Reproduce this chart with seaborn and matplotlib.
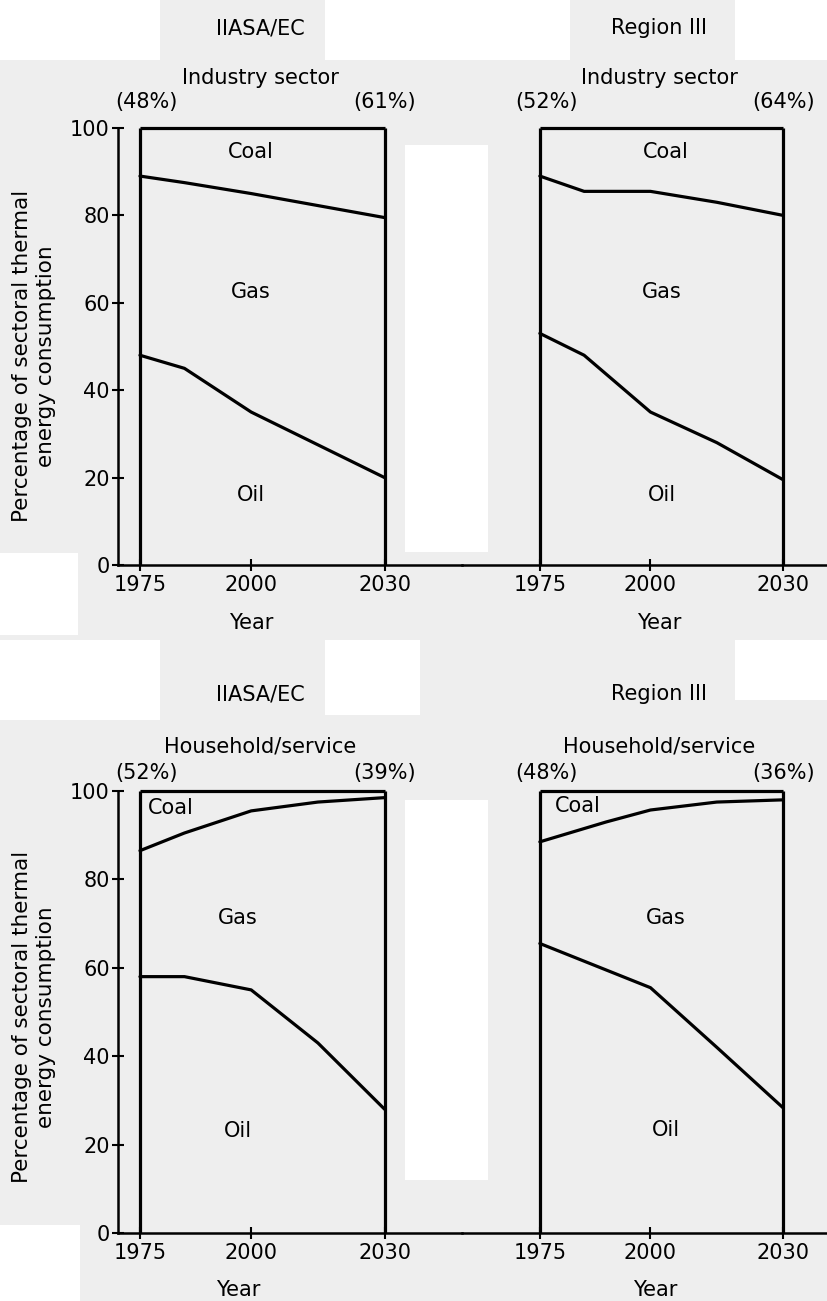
import numpy as np
import pandas as pd
import matplotlib
matplotlib.use('Agg')
import matplotlib.pyplot as plt
from matplotlib.patches import Rectangle
import seaborn as sns

# Boundary lines (percent): oil/gas boundary and gas/coal boundary
ind_iiasa_years = [1975, 1985, 2000, 2030]
ind_iiasa_coal = [89, 87.5, 85, 79.5]
ind_iiasa_oil = [48, 45, 35, 20]

ind_reg3_years = [1975, 1985, 2000, 2015, 2030]
ind_reg3_coal = [89, 85.5, 85.5, 83, 80]
ind_reg3_oil = [53, 48, 35, 28, 19.5]

hh_iiasa_years = [1975, 1985, 2000, 2015, 2030]
hh_iiasa_coal = [86.5, 90.5, 95.5, 97.5, 98.5]
hh_iiasa_oil = [58, 58, 55, 43, 28]

hh_reg3_years = [1975, 1990, 2000, 2015, 2030]
hh_reg3_coal = [88.5, 93, 95.7, 97.5, 98]
hh_reg3_oil = [65.5, 59.5, 55.5, 42, 28.3]

scenarios = ['IIASA/EC', 'Region III']
sectors = ['Industry sector', 'Household/service']
shares_start = [['(48%)', '(52%)'], ['(52%)', '(48%)']]
shares_end = [['(61%)', '(64%)'], ['(39%)', '(36%)']]
xticks = [1975, 2000, 2030]
yticks = [0, 20, 40, 60, 80, 100]

sns.set_style('ticks')
plt.rcParams['font.family'] = ['DejaVu Sans']
plt.rcParams['text.color'] = 'black'
plt.rcParams['axes.edgecolor'] = 'black'
plt.rcParams['xtick.color'] = 'black'
plt.rcParams['ytick.color'] = 'black'
FS = 15

W, H = 827, 1301
fig = plt.figure(figsize=(W / 100, H / 100), dpi=100)
fig.patch.set_facecolor('#eeeeee')

# white scan blocks in the background
white_blocks = [(0, 0, 160, 60), (325, 0, 245, 60), (735, 0, 92, 60),
                (405, 145, 83, 407), (0, 553, 78, 82), (0, 640, 160, 80),
                (325, 640, 95, 75), (735, 640, 92, 60),
                (405, 800, 83, 380), (0, 1225, 80, 76)]
for (bx, by, bw, bh) in white_blocks:
    fig.add_artist(Rectangle((bx / W, 1 - (by + bh) / H), bw / W, bh / H,
                             transform=fig.transFigure, color='white',
                             zorder=-5, lw=0))

panels = [
    [(ind_iiasa_years, ind_iiasa_coal, ind_iiasa_oil),
     (ind_reg3_years, ind_reg3_coal, ind_reg3_oil)],
    [(hh_iiasa_years, hh_iiasa_coal, hh_iiasa_oil),
     (hh_reg3_years, hh_reg3_coal, hh_reg3_oil)],
]

# label positions (year, percent) for fuel names
fuel_pos = [
    [{'Coal': (2000, 94.5), 'Gas': (2000, 62.5), 'Oil': (2000, 16)},
     {'Coal': (2003.5, 94.5), 'Gas': (2002.5, 62.5), 'Oil': (2002.5, 16)}],
    [{'Coal': (1982, 96.2), 'Gas': (1997, 71.3), 'Oil': (1997, 23)},
     {'Coal': (1983.6, 96.6), 'Gas': (2003.5, 71.3), 'Oil': (2003.5, 23.3)}],
]

row_px = [(128, 565), (791, 1233)]   # (y of 100, y of 0)
col_px = [(118, 462, 1970.06, 2047.4), (462, 827, 1957.4, 2039.9)]
head_rows = [(28, 78, 102, 623), (694, 746, 773, 1290)]

for r in range(2):
    ytop, ybot = row_px[r]
    ppu = (ybot - ytop) / 100.0

    def to_data(py):
        return (ybot - py) / ppu

    for c in range(2):
        x0, x1, xl0, xl1 = col_px[c]
        ax = fig.add_axes([x0 / W, 1 - ybot / H, (x1 - x0) / W, (ybot - ytop) / H])
        ax.set_facecolor('none')
        years, coal, oil = panels[r][c]
        df = pd.DataFrame({'year': years, 'coal': coal, 'oil': oil})
        sns.lineplot(data=df, x='year', y='coal', ax=ax, color='black', lw=2.3)
        sns.lineplot(data=df, x='year', y='oil', ax=ax, color='black', lw=2.3)
        # panel frame
        ax.vlines([1975, 2030], 0, 100, color='black', lw=2.3, clip_on=False)
        ax.hlines(100, 1975, 2030, color='black', lw=2.3, clip_on=False)
        ax.set_xlim(xl0, xl1)
        ax.set_ylim(0, 100)
        ax.set_xticks(xticks)
        ax.set_xticklabels([str(t) for t in xticks], fontsize=FS)
        ax.tick_params(axis='x', direction='inout', length=8, width=1.5, pad=3)
        ax.set_xlabel('')
        ax.set_ylabel('')
        for s in ['top', 'right']:
            ax.spines[s].set_visible(False)
        ax.spines['bottom'].set_linewidth(1.8)
        if c == 0:
            ax.set_yticks(yticks)
            ax.set_yticklabels([str(t) for t in yticks], fontsize=FS)
            ax.tick_params(axis='y', direction='inout', length=8, width=1.5, pad=2)
            ax.spines['left'].set_linewidth(1.8)
        else:
            ax.spines['left'].set_visible(False)
            ax.set_yticks([])
        for name, (fx, fy) in fuel_pos[r][c].items():
            ax.text(fx, fy, name, ha='center', va='center', fontsize=FS)
        # headings above the panel
        hp = head_rows[r]
        ax.text(2002, to_data(hp[0]), scenarios[c], ha='center', va='center',
                fontsize=FS, clip_on=False)
        ax.text(2002, to_data(hp[1]), sectors[r], ha='center', va='center',
                fontsize=FS, clip_on=False)
        ax.text(1976.5, to_data(hp[2]), shares_start[r][c], ha='center',
                va='center', fontsize=FS, clip_on=False)
        ax.text(2030, to_data(hp[2]), shares_end[r][c], ha='center',
                va='center', fontsize=FS, clip_on=False)
        year_x = [[2000, 2002], [1997, 2001]][r][c]
        ax.text(year_x, to_data(hp[3]), 'Year', ha='center', va='center',
                fontsize=FS, clip_on=False)

ylabel = 'Percentage of sectoral thermal\nenergy consumption'
fig.text(34 / W, 1 - 356 / H, ylabel, rotation=90, ha='center', va='center',
         fontsize=15.5, linespacing=1.2)
fig.text(34 / W, 1 - 1017 / H, ylabel, rotation=90, ha='center', va='center',
         fontsize=15.5, linespacing=1.2)

fig.savefig('out.png', dpi=100, facecolor=fig.get_facecolor())
